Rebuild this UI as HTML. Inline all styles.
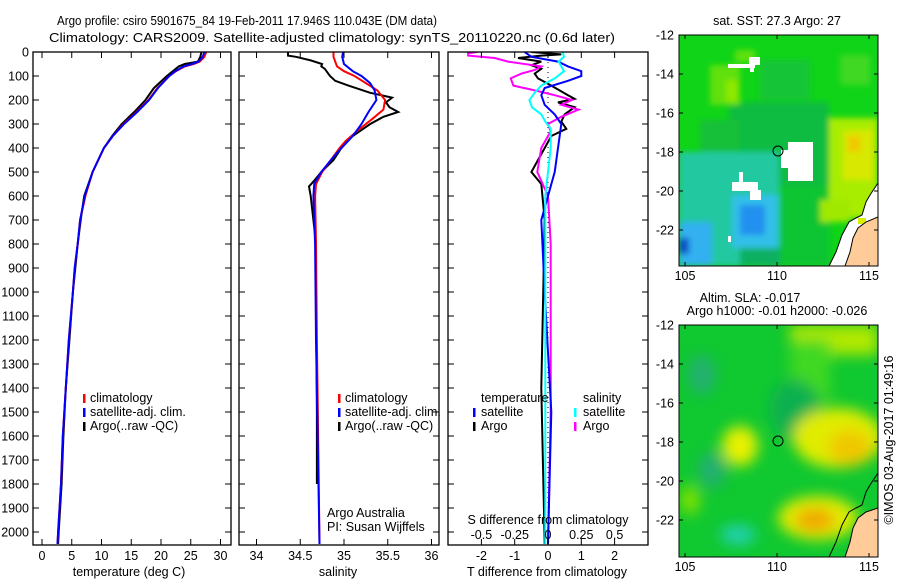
<!DOCTYPE html>
<html><head><meta charset="utf-8">
<style>
html,body{margin:0;padding:0;background:#fff;}
svg{display:block;font-family:"Liberation Sans",sans-serif;}
text{font-size:12.5px;fill:#000;}
</style></head>
<body>
<svg id="root" width="900" height="580" viewBox="0 0 900 580" xmlns="http://www.w3.org/2000/svg">
  <defs>
    <clipPath id="c1"><rect x="33" y="52" width="198" height="493"/></clipPath>
    <clipPath id="c2"><rect x="239" y="52" width="200" height="493"/></clipPath>
    <clipPath id="c3"><rect x="448" y="52" width="200" height="493"/></clipPath>
    <clipPath id="m1"><rect x="679" y="35" width="199" height="231"/></clipPath>
    <clipPath id="m2"><rect x="679" y="325" width="199" height="232"/></clipPath>
    <filter id="bl1" filterUnits="userSpaceOnUse" x="600" y="0" width="320" height="300"><feGaussianBlur stdDeviation="3"/></filter>
    <filter id="bl2" filterUnits="userSpaceOnUse" x="600" y="280" width="320" height="300"><feGaussianBlur stdDeviation="7"/></filter>
  </defs>
  <text x="57" y="25" textLength="380" lengthAdjust="spacingAndGlyphs" style="font-size:13px">Argo profile: csiro 5901675_84 19-Feb-2011 17.946S 110.043E (DM data)</text>
  <text x="49" y="42" textLength="566" lengthAdjust="spacingAndGlyphs" style="font-size:13px">Climatology: CARS2009. Satellite-adjusted climatology: synTS_20110220.nc (0.6d later)</text>
  <g id="g1"></g>
  <g id="g2"></g>
  <g id="g3"></g>

  <!-- Map 1: SST -->
  <g>
    <text x="777" y="25" text-anchor="middle">sat. SST: 27.3 Argo: 27</text>
    <g clip-path="url(#m1)">
      <rect x="679" y="35" width="199" height="231" fill="#10d418"/>
      <g filter="url(#bl1)">
        <rect x="729" y="102" width="100" height="83" fill="#10bc40"/>
        <rect x="700" y="120" width="40" height="40" fill="#18c038"/>
        <rect x="760" y="60" width="50" height="40" fill="#14c438"/>
        <rect x="780" y="185" width="50" height="81" fill="#10c430"/>
        <rect x="710" y="65" width="30" height="40" fill="#60e010"/>
        <rect x="726" y="80" width="12" height="22" fill="#90e800"/>
        <rect x="735" y="50" width="20" height="12" fill="#60e010"/>
        <rect x="840" y="55" width="30" height="30" fill="#40d820"/>
        <rect x="829" y="118" width="49" height="100" fill="#a8ec00"/>
        <rect x="843" y="130" width="30" height="50" fill="#d8e800"/>
        <rect x="848" y="136" width="12" height="16" fill="#f0c800"/>
        <rect x="820" y="200" width="30" height="22" fill="#a0e800"/>
        <rect x="679" y="152" width="100" height="114" fill="#20c8a0"/>
        <rect x="732" y="195" width="47" height="53" fill="#30c0e8"/>
        <rect x="740" y="205" width="25" height="30" fill="#2090f0"/>
        <rect x="679" y="222" width="33" height="44" fill="#30b0f0"/>
        <rect x="679" y="238" width="10" height="16" fill="#1050c8"/>
        <rect x="740" y="248" width="40" height="18" fill="#10b060"/>
      </g>
      <rect x="788" y="142" width="25" height="39" fill="#fff"/>
      <rect x="781" y="150" width="9" height="18" fill="#fff"/>
      <rect x="732" y="182" width="26" height="9" fill="#fff"/>
      <rect x="750" y="190" width="11" height="10" fill="#fff"/>
      <rect x="739" y="172" width="4" height="11" fill="#fff"/>
      <rect x="728" y="64" width="27" height="4" fill="#fff"/>
      <rect x="749" y="57" width="11" height="8" fill="#fff"/>
      <rect x="750" y="64" width="4" height="8" fill="#fff"/>
      <rect x="728" y="236" width="3" height="6" fill="#fff"/>
      <polygon points="878,183 866,202 862,215 849,222 842,235 836,252 829,266 878,266" fill="#fff"/>
      <polygon points="878,217 866,222 858,228 853,238 850,252 845,266 878,266" fill="#ffcc99"/>
      <rect x="858" y="218" width="8" height="6" fill="#d8f000"/>
      <polyline points="878,183 870,195 866,202 862,215 856,218 849,222 842,235 836,252 829,266" fill="none" stroke="#000" stroke-width="1"/>
      <polyline points="878,217 866,222 858,228 853,238 850,252 845,266" fill="none" stroke="#000" stroke-width="1"/>
      <circle cx="778" cy="151" r="5" fill="none" stroke="#000" stroke-width="1"/>
    </g>
    <rect x="679" y="35" width="199" height="231" fill="none" stroke="#000" stroke-width="1"/>
    <g id="ax-m1"></g>
  </g>

  <!-- Map 2: SLA -->
  <g>
    <text x="750" y="302" text-anchor="middle">Altim. SLA: -0.017</text>
    <text x="777" y="315" text-anchor="middle">Argo h1000: -0.01 h2000: -0.026</text>
    <g clip-path="url(#m2)">
      <rect x="679" y="325" width="199" height="232" fill="#10c830"/>
      <g filter="url(#bl2)">
        <rect x="790" y="325" width="88" height="30" fill="#b0e800"/>
        <rect x="790" y="340" width="40" height="60" fill="#40d820"/>
        <ellipse cx="702" cy="375" rx="14" ry="20" fill="#20b070"/>
        <ellipse cx="712" cy="470" rx="14" ry="18" fill="#20b070"/>
        <ellipse cx="738" cy="535" rx="18" ry="10" fill="#20d0b0"/>
        <ellipse cx="795" cy="410" rx="25" ry="30" fill="#10b050"/>
        <ellipse cx="740" cy="446" rx="18" ry="20" fill="#e8f000"/>
        <ellipse cx="838" cy="438" rx="45" ry="30" fill="#e0ec00"/>
        <ellipse cx="850" cy="448" rx="22" ry="18" fill="#f0c800"/>
        <ellipse cx="818" cy="518" rx="40" ry="22" fill="#e0ec00"/>
        <ellipse cx="815" cy="520" rx="20" ry="12" fill="#f0a800"/>
        <ellipse cx="690" cy="500" rx="10" ry="15" fill="#80e000"/>
      </g>
      <polygon points="878,508 866,512 858,518 853,528 850,542 845,557 878,557" fill="#ffcc99"/>
      <polyline points="878,473 870,485 866,492 862,505 856,508 849,512 842,525 836,542 829,557" fill="none" stroke="#000" stroke-width="1"/>
      <polyline points="878,508 866,512 858,518 853,528 850,542 845,557" fill="none" stroke="#000" stroke-width="1"/>
      <circle cx="778" cy="441" r="5" fill="none" stroke="#000" stroke-width="1"/>
    </g>
    <rect x="679" y="325" width="199" height="232" fill="none" stroke="#000" stroke-width="1"/>
    <g id="ax-m2"></g>
  </g>
  <text x="893" y="440" text-anchor="middle" transform="rotate(-90 893 440)">©IMOS 03-Aug-2017 01:49:16</text>
</svg>
<script>
// ---------- data ----------
const tDepth = [0,20,40,50,60,80,100,150,200,250,300,350,400,500,600,700,800,900,1000,1200,1400,1600,1800,2000,2050];
const tClim  = [27.6,27.3,26.5,25.5,24.0,22.5,21.4,19.4,17.9,15.9,13.7,11.9,10.4,8.5,7.3,6.4,6.0,5.5,5.2,4.5,4.0,3.5,3.2,2.7,2.6];
const tSat   = [27.3,27.0,26.3,25.2,23.8,22.4,21.4,19.5,18.0,16.0,13.8,11.9,10.4,8.5,7.2,6.4,6.0,5.5,5.2,4.5,4.0,3.5,3.2,2.7,2.6];
const tArgo  = [26.8,26.6,26.2,24.0,23.0,22.0,21.0,18.8,17.4,15.5,13.4,11.8,10.4,8.5,7.1,6.5,6.0,5.6,5.2,4.6,4.0,3.6,3.3,2.8,2.7];

const sDepthC = [0,20,40,60,80,100,130,160,200,240,280,320,370,400,450,500,550,600,800,1200,2050];
const sClim   = [34.88,34.88,34.90,34.92,35.00,35.12,35.25,35.38,35.47,35.45,35.32,35.18,35.02,34.95,34.85,34.75,34.68,34.67,34.68,34.69,34.72];
const sDepthS = [0,20,50,80,100,130,160,200,250,300,350,400,450,500,550,600,800,1200,2050];
const sSat    = [34.99,34.98,35.00,35.10,35.20,35.30,35.35,35.37,35.28,35.20,35.10,34.97,34.85,34.74,34.66,34.65,34.67,34.68,34.72];
const sDepthA = [0,15,20,35,50,60,70,80,100,120,140,170,190,210,230,250,270,300,330,360,400,450,500,540,560,600,700,800,1000,1500,1800];
const sArgo   = [34.36,34.36,34.45,34.62,34.75,34.74,34.78,34.80,34.84,34.90,35.05,35.30,35.55,35.48,35.52,35.62,35.45,35.30,35.18,35.06,34.97,34.88,34.74,34.65,34.60,34.62,34.65,34.68,34.68,34.69,34.69];

const dDepthTA = [0,10,15,25,40,55,70,90,110,140,180,195,210,230,260,290,320,350,400,450,500,550,700,1400,2050];
const dTArgo   = [-0.5,0.4,-0.2,-0.9,-0.2,-0.5,-0.2,-0.4,-0.3,0.1,0.6,0.8,0.3,0.8,0.5,0.4,0.55,0.1,-0.1,-0.3,-0.5,-0.2,-0.1,-0.2,-0.1];
const dDepthTS = [0,20,40,60,80,100,120,150,180,220,260,300,400,500,700,1000,1500,2050];
const dTSat    = [-0.7,-0.5,0.3,0.6,1.0,1.0,0.6,-0.1,-0.2,-0.1,0.2,0.4,0.3,0.2,-0.2,-0.1,0.1,0.0];
const dDepthSA = [0,5,15,25,40,60,75,90,110,140,160,180,200,220,240,270,300,330,400,500,600,800,1500,2050];
const dSArgo   = [-0.53,-0.6,-0.6,-0.4,-0.3,-0.05,-0.1,-0.2,-0.28,-0.26,-0.1,0.05,0.18,0.1,0.23,0.1,0.0,0.02,-0.05,-0.08,0.0,0.02,0.02,0.0];
const dDepthSS = [0,20,40,60,80,110,140,170,200,230,260,290,320,400,600,1000,2050];
const dSSat    = [0.11,0.12,0.08,0.10,0.12,0.05,-0.05,-0.10,-0.14,-0.12,-0.05,-0.02,0.02,0.02,-0.02,-0.02,-0.02];

const depthTicks = [0,100,200,300,400,500,600,700,800,900,1000,1100,1200,1300,1400,1500,1600,1700,1800,1900,2000];
const tempTicks = [0,5,10,15,20,25,30];
const salTicks = [34,34.5,35,35.5,36];
const dTTicks = [-2,-1,0,1,2];
const dSTicks = [-0.5,-0.25,0,0.25,0.5];
const dSTickLabels = ['-0.5','-0.25','0','0.25','0.5'];
const lonTicks = [105,110,115];
const latTicks = [-12,-14,-16,-18,-20,-22];

// ---------- helpers ----------
const NS = 'http://www.w3.org/2000/svg';
function mk(tag, attrs, parent){const e=document.createElementNS(NS,tag);for(const k in attrs)e.setAttribute(k,attrs[k]);parent.appendChild(e);return e;}
const TOP=52, BOT=545;
const yD = d => TOP + d*0.24;
const x1 = t => 42 + 5.95*t;
const x2 = s => 256.5 + 87.5*(s-34);
const x3T = t => 548 + 33.3*t;
const x3S = s => 548 + 133.2*s;

function line(g, depths, vals, xf, color, clip, name){
  const pts = depths.map((d,i)=>xf(vals[i]).toFixed(1)+','+yD(d).toFixed(1)).join(' ');
  const p = mk('polyline',{points:pts,fill:'none',stroke:color,'stroke-width':2,'clip-path':'url(#'+clip+')'},g);
  
  
}
function frame(g, x0, w){
  const r = mk('rect',{x:x0,y:TOP,width:w,height:BOT-TOP,fill:'none',stroke:'#000','stroke-width':1.3},g);
  
  
  depthTicks.forEach(d=>{
    mk('line',{x1:x0,x2:x0+6,y1:yD(d),y2:yD(d),stroke:'#000'},g);
    mk('line',{x1:x0+w-6,x2:x0+w,y1:yD(d),y2:yD(d),stroke:'#000'},g);
  });
}
function xticks(g, vals, labels, xf, ylab){
  vals.forEach((v,i)=>{
    const x = xf(v);
    mk('line',{x1:x,x2:x,y1:BOT,y2:BOT-6,stroke:'#000'},g);
    mk('line',{x1:x,x2:x,y1:TOP,y2:TOP+6,stroke:'#000'},g);
    if(labels){const t = mk('text',{x:x,y:ylab,'text-anchor':'middle'},g); t.textContent = labels[i];
      
      }
  });
}
function txt(g, x, y, s, name, anchor){
  const t = mk('text',{x:x,y:y,'text-anchor':anchor||'start'},g); t.textContent=s;
  
  
  return t;
}
function legBar(g, x, y, color){
  const r = mk('rect',{x:x,y:y-4,width:2.5,height:9,fill:color},g);
  
  
}

// ---------- panel 1 ----------
const g1 = document.getElementById('g1');
line(g1, tDepth, tArgo, x1, '#000', 'c1', 'argo-temperature-line');
line(g1, tDepth, tClim, x1, '#f00', 'c1', 'climatology-temperature-line');
line(g1, tDepth, tSat, x1, '#00f', 'c1', 'satellite-temperature-line');
frame(g1, 33, 198);
depthTicks.forEach(d=>{ txt(g1, 29, yD(d)+4.5, String(d), 'depth-tick-label', 'end'); });
xticks(g1, tempTicks, tempTicks.map(String), x1, 560);
txt(g1, 129, 576, 'temperature (deg C)', 'temperature-axis-title', 'middle');
legBar(g1, 83, 398, '#f00'); txt(g1, 90, 402, 'climatology', 'legend-climatology');
legBar(g1, 83, 412, '#00f'); txt(g1, 90, 416, 'satellite-adj. clim.', 'legend-satellite');
legBar(g1, 83, 426, '#000'); txt(g1, 90, 430, 'Argo(..raw -QC)', 'legend-argo');

// ---------- panel 2 ----------
const g2 = document.getElementById('g2');
line(g2, sDepthA, sArgo, x2, '#000', 'c2', 'argo-salinity-line');
line(g2, sDepthC, sClim, x2, '#f00', 'c2', 'climatology-salinity-line');
line(g2, sDepthS, sSat, x2, '#00f', 'c2', 'satellite-salinity-line');
frame(g2, 239, 200);
xticks(g2, salTicks, salTicks.map(String), x2, 560);
txt(g2, 338, 576, 'salinity', 'salinity-axis-title', 'middle');
legBar(g2, 338, 398, '#f00'); txt(g2, 345, 402, 'climatology', 'legend-climatology');
legBar(g2, 338, 412, '#00f'); txt(g2, 345, 416, 'satellite-adj. clim.', 'legend-satellite');
legBar(g2, 338, 426, '#000'); txt(g2, 345, 430, 'Argo(..raw -QC)', 'legend-argo');
txt(g2, 327, 517, 'Argo Australia', 'credit-line-1');
txt(g2, 327, 531, 'PI: Susan Wijffels', 'credit-line-2');

// ---------- panel 3 ----------
const g3 = document.getElementById('g3');
for(let y=TOP; y<BOT; y+=5){ mk('rect',{x:x3T(0)-0.5,y:y,width:1,height:1,fill:'#000'},g3); }
line(g3, dDepthTA, dTArgo, x3T, '#000', 'c3', 'argo-temperature-diff-line');
line(g3, dDepthSA, dSArgo, x3S, '#f0f', 'c3', 'argo-salinity-diff-line');
line(g3, dDepthTS, dTSat, x3T, '#00f', 'c3', 'satellite-temperature-diff-line');
line(g3, dDepthSS, dSSat, x3S, '#0ff', 'c3', 'satellite-salinity-diff-line');
frame(g3, 448, 200);
xticks(g3, dTTicks, dTTicks.map(String), x3T, 560);
dSTicks.forEach((v,i)=>{ txt(g3, x3S(v), 539, dSTickLabels[i], 's-diff-tick-label', 'middle'); });
txt(g3, 548, 524, 'S difference from climatology', 's-diff-axis-title', 'middle');
txt(g3, 547, 576, 'T difference from climatology', 't-diff-axis-title', 'middle');
txt(g3, 481, 402, 'temperature', 'legend-temperature-header');
legBar(g3, 473, 412, '#00f'); txt(g3, 481, 416, 'satellite', 'legend-t-satellite');
legBar(g3, 473, 426, '#000'); txt(g3, 481, 430, 'Argo', 'legend-t-argo');
txt(g3, 583, 402, 'salinity', 'legend-salinity-header');
legBar(g3, 574, 412, '#0ff'); txt(g3, 583, 416, 'satellite', 'legend-s-satellite');
legBar(g3, 574, 426, '#f0f'); txt(g3, 583, 430, 'Argo', 'legend-s-argo');

// ---------- map axes ----------
function mapAxes(id, top, bot){
  const g = document.getElementById(id);
  const lx = lon => 685 + 18.4*(lon-105);
  const ly = lat => top + 19.5*(-12-lat);
  lonTicks.forEach(l=>{
    mk('line',{x1:lx(l),x2:lx(l),y1:bot,y2:bot-4,stroke:'#000'},g);
    mk('line',{x1:lx(l),x2:lx(l),y1:top,y2:top+4,stroke:'#000'},g);
    txt(g, lx(l), bot+14, String(l), 'lon-tick-label', 'middle');
  });
  latTicks.forEach(l=>{
    mk('line',{x1:679,x2:683,y1:ly(l),y2:ly(l),stroke:'#000'},g);
    mk('line',{x1:874,x2:878,y1:ly(l),y2:ly(l),stroke:'#000'},g);
    txt(g, 674, ly(l)+4.5, String(l), 'lat-tick-label', 'end');
  });
}
mapAxes('ax-m1', 35, 266);
mapAxes('ax-m2', 325, 557);
</script>
</body></html>
